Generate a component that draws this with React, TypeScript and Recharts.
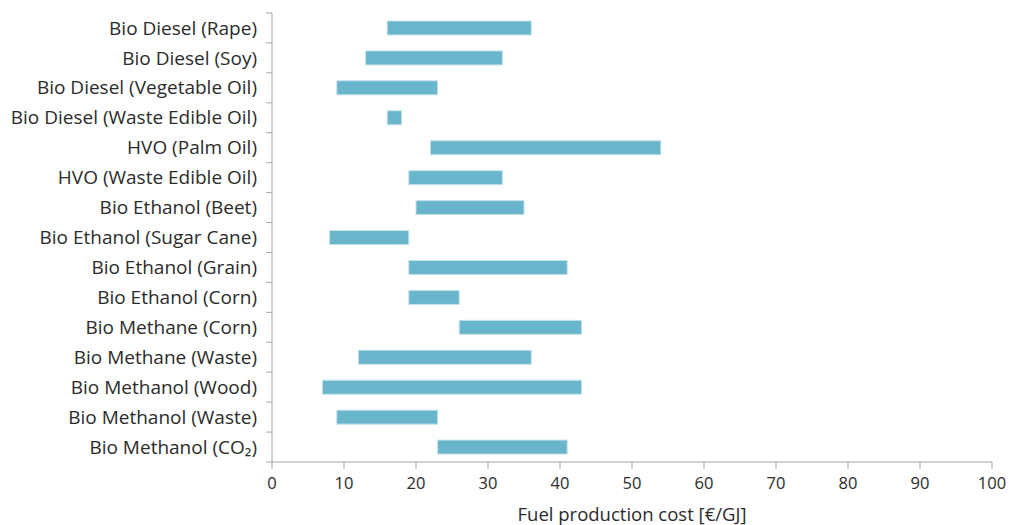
import React from "react";
import {
  BarChart,
  Bar,
  XAxis,
  YAxis,
} from "recharts";

const fuels = [
  "Bio Diesel (Rape)",
  "Bio Diesel (Soy)",
  "Bio Diesel (Vegetable Oil)",
  "Bio Diesel (Waste Edible Oil)",
  "HVO (Palm Oil)",
  "HVO (Waste Edible Oil)",
  "Bio Ethanol (Beet)",
  "Bio Ethanol (Sugar Cane)",
  "Bio Ethanol (Grain)",
  "Bio Ethanol (Corn)",
  "Bio Methane (Corn)",
  "Bio Methane (Waste)",
  "Bio Methanol (Wood)",
  "Bio Methanol (Waste)",
  "Bio Methanol (CO₂)",
];

const costLow = [16, 13, 9, 16, 22, 19, 20, 8, 19, 19, 26, 12, 7, 9, 23];
const costHigh = [36, 32, 23, 18, 54, 32, 35, 19, 41, 26, 43, 36, 43, 23, 41];

const xTicks = [0, 10, 20, 30, 40, 50, 60, 70, 80, 90, 100];

const data = fuels.map((name, i) => ({
  name,
  range: [costLow[i], costHigh[i]],
}));

const FONT = "'Open Sans', sans-serif";
const TEXT = "#2b2b2b";
const AXIS = "#a6a6a6";
const AXIS_X = 272;

// category labels plus tick marks on the band edges
const FuelTick = (props: any) => {
  const { x, y, payload, index } = props;
  const half = payload.offset || 15;
  return (
    <g>
      <text
        x={x}
        y={y}
        dy="0.35em"
        textAnchor="end"
        fill={TEXT}
        fontSize={19}
        fontFamily={FONT}
      >
        {payload.value}
      </text>
      {index === 0 && (
        <line x1={AXIS_X - 6} x2={AXIS_X} y1={y - half} y2={y - half} stroke={AXIS} />
      )}
      <line x1={AXIS_X - 6} x2={AXIS_X} y1={y + half} y2={y + half} stroke={AXIS} />
    </g>
  );
};

export default function App() {
  return (
    <div style={{ position: "absolute", left: 0, top: 0, background: "#fff" }}>
      <BarChart
        width={1009}
        height={525}
        data={data}
        layout="vertical"
        margin={{ top: 13, right: 17, bottom: 0, left: 0 }}
        barCategoryGap={8}
      >
        <XAxis
          type="number"
          domain={[0, 100]}
          ticks={xTicks}
          interval={0}
          height={63}
          axisLine={{ stroke: AXIS }}
          tickLine={{ stroke: AXIS }}
          tickSize={7}
          tickMargin={8}
          tick={{ fill: TEXT, fontSize: 16.5, fontFamily: FONT }}
          label={{
            value: "Fuel production cost [€/GJ]",
            position: "insideBottom",
            offset: 4,
            fill: TEXT,
            fontSize: 18.5,
            fontFamily: FONT,
          }}
        />
        <YAxis
          type="category"
          dataKey="name"
          width={272}
          interval={0}
          axisLine={{ stroke: AXIS }}
          tickLine={false}
          tickSize={6}
          tickMargin={9}
          tick={<FuelTick />}
        />
        <Bar
          dataKey="range"
          fill="#69b5cc"
          stroke="#c4e2eb"
          strokeWidth={1}
          barSize={14}
          isAnimationActive={false}
        />
      </BarChart>
    </div>
  );
}
